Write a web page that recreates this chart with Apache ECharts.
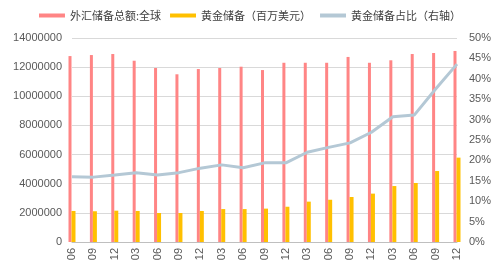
<!DOCTYPE html>
<html>
<head>
<meta charset="utf-8">
<script src="https://cdn.jsdelivr.net/npm/echarts@6/dist/echarts.min.js"></script>
<style>
  html, body { margin: 0; padding: 0; background: #fff; }
  #chart { width: 500px; height: 260px; }
</style>
</head>
<body>
<div id="chart"></div>
<script>
// 季度末数据
const categories = ['2021-06', '2021-09', '2021-12', '2022-03', '2022-06', '2022-09', '2022-12',
  '2023-03', '2023-06', '2023-09', '2023-12', '2024-03', '2024-06', '2024-09', '2024-12',
  '2025-03', '2025-06', '2025-09', '2025-12'];
// 外汇储备总额:全球（百万美元）
const totalReserves = [12760000, 12830000, 12900000, 12440000, 11940000, 11510000, 11870000,
  11940000, 12030000, 11800000, 12300000, 12300000, 12300000, 12700000, 12300000,
  12470000, 12900000, 12970000, 13110000];
// 黄金储备（百万美元）
const goldReserves = [2130000, 2110000, 2150000, 2130000, 1990000, 1990000, 2130000,
  2260000, 2260000, 2290000, 2420000, 2770000, 2900000, 3090000, 3320000,
  3840000, 4050000, 4870000, 5790000];
// 黄金储备占比（右轴）
const goldShare = [0.160, 0.159, 0.164, 0.170, 0.164, 0.170, 0.181,
  0.189, 0.182, 0.194, 0.194, 0.220, 0.232, 0.243, 0.269,
  0.307, 0.311, 0.375, 0.436];

const leftTicks = { min: 0, max: 14000000, interval: 2000000 };
const rightTicks = { min: 0, max: 0.5, interval: 0.05 };

let myChart = echarts.init(document.getElementById('chart'));
let labelFont = { color: '#595959', fontSize: 11, fontFamily: 'Liberation Sans, Arial, sans-serif' };
let option = {
  animation: false,
  textStyle: { fontFamily: 'Noto Sans CJK SC, sans-serif' },
  legend: {
    top: 5,
    left: 'center',
    itemWidth: 26,
    itemHeight: 4,
    itemGap: 9,
    icon: 'rect',
    textStyle: { fontSize: 11, color: '#404040', fontFamily: 'Noto Sans CJK SC, sans-serif' },
    data: ['外汇储备总额:全球', '黄金储备（百万美元）', '黄金储备占比（右轴）']
  },
  grid: { left: 72, right: 43, top: 38, bottom: 18, containLabel: false, outerBoundsMode: 'none' },
  xAxis: {
    type: 'category',
    data: categories,
    boundaryGap: false,
    axisLine: { lineStyle: { color: '#bfbfbf' } },
    axisTick: { show: false },
    axisLabel: Object.assign({ rotate: 90, margin: 6, interval: 0 }, labelFont)
  },
  yAxis: [{
    type: 'value',
    min: leftTicks.min,
    max: leftTicks.max,
    interval: leftTicks.interval,
    axisLine: { show: false },
    axisTick: { show: false },
    splitLine: { lineStyle: { color: '#d9d9d9' } },
    axisLabel: Object.assign({ margin: 10, formatter: v => String(v) }, labelFont)
  }, {
    type: 'value',
    min: rightTicks.min,
    max: rightTicks.max,
    interval: rightTicks.interval,
    axisLine: { show: false },
    axisTick: { show: false },
    splitLine: { show: false },
    axisLabel: Object.assign({
      margin: 12,
      formatter: v => Math.round(v * 100) + '%'
    }, labelFont)
  }],
  series: [{
    name: '外汇储备总额:全球',
    type: 'bar',
    barWidth: 3,
    barGap: '0%',
    clip: false,
    itemStyle: { color: '#ff8585' },
    data: totalReserves
  }, {
    name: '黄金储备（百万美元）',
    type: 'bar',
    barWidth: 4,
    clip: false,
    itemStyle: { color: '#ffc000' },
    data: goldReserves
  }, {
    name: '黄金储备占比（右轴）',
    type: 'line',
    yAxisIndex: 1,
    symbol: 'none',
    lineStyle: { color: '#b4c8d5', width: 3 },
    itemStyle: { color: '#b4c8d5' },
    z: 3,
    data: goldShare
  }]
};
myChart.setOption(option);
</script>
</body>
</html>
